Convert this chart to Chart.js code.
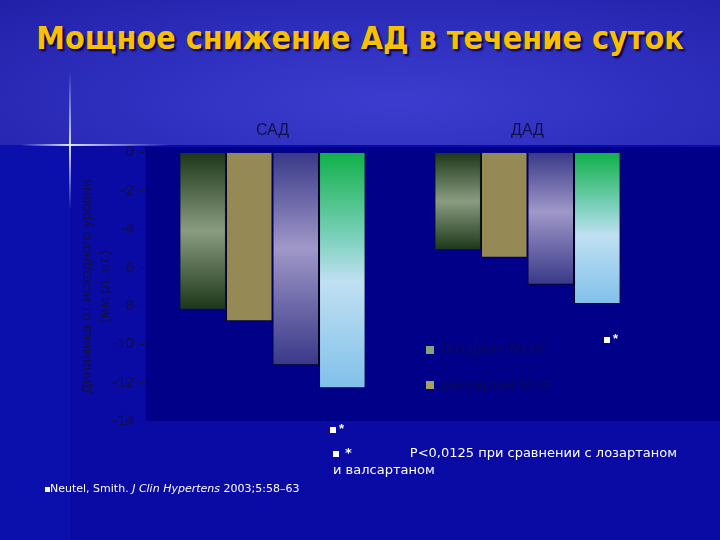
<!DOCTYPE html>
<html>
<head>
<meta charset="utf-8">
<script src="https://cdn.jsdelivr.net/npm/chart.js@4"></script>
<style>
  html, body { margin: 0; padding: 0; }
  body {
    width: 720px; height: 540px; position: relative; overflow: hidden;
    background: #0a0aa4;
    font-family: "Liberation Sans", Arial, sans-serif;
  }
  .top {
    position: absolute; left: 0; top: 0; width: 720px; height: 145px;
    background: radial-gradient(ellipse at 55% 70%, #3c3cce 0%, #3030c0 45%, #2020a8 100%);
  }
  .leftband { position: absolute; left: 0; top: 145px; width: 70px; height: 395px; background: #0b10ac; }
  .vline {
    position: absolute; left: 69px; top: 70px; width: 2px; height: 140px;
    background: linear-gradient(to bottom, rgba(160,190,255,0), rgba(220,235,255,0.95) 55%, rgba(160,190,255,0));
  }
  .hline {
    position: absolute; left: 20px; top: 144px; width: 150px; height: 2px;
    background: linear-gradient(to right, rgba(160,190,255,0), rgba(230,240,255,0.95) 33%, rgba(160,190,255,0));
  }
  h1 {
    position: absolute; left: 0; top: 19px; width: 720px; margin: 0; text-align: center;
    font-family: "DejaVu Sans Condensed", "DejaVu Sans", sans-serif; font-weight: bold; font-size: 32px;
    color: #f8c000; text-shadow: 2px 2px 2px #000044;
  }
  canvas { position: absolute; left: 0; top: 0; }
  .leg { position: absolute; font-size: 15px; color: #0a0a5a; white-space: nowrap; }
  .leg i { display: inline-block; width: 8px; height: 8px; margin-right: 6px; vertical-align: middle; }
  .wht { position: absolute; color: #fff; font-size: 13px; font-weight: bold; white-space: nowrap; }
  .wht i { display: inline-block; width: 6px; height: 6px; background: #fff; margin-right: 3px; vertical-align: middle; }
  .note { position: absolute; color: #fff; font-family: "DejaVu Sans", sans-serif; font-size: 13px; white-space: nowrap; }
</style>
</head>
<body>
<div class="top"></div>
<div class="leftband"></div>
<h1>Мощное снижение АД в течение суток</h1>
<canvas id="myChart" width="720" height="540"></canvas>
<div class="vline"></div>
<div class="hline"></div>

<div class="leg" style="left:426px; top:340px;"><i style="background:#8a9e80"></i>Лозартан 50 мг</div>
<div class="leg" style="left:426px; top:375px;"><i style="background:#a8a060"></i>Валсартан 80 мг</div>
<div class="wht" style="left:604px; top:331px;"><i></i>*</div>
<div class="wht" style="left:330px; top:421px;"><i></i>*</div>
<div class="note" style="left:333px; top:445px;"><span style="display:inline-block;width:6px;height:6px;background:#fff;vertical-align:middle;margin-right:6px"></span><b>*</b><span style="display:inline-block;width:58px"></span>P&lt;0,0125 при сравнении с лозартаном</div>
<div class="note" style="left:333px; top:462px;">и валсартаном</div>
<div class="note" style="left:45px; top:482px; font-size:11px;"><span style="display:inline-block;width:5px;height:5px;background:#fff;vertical-align:middle"></span>Neutel, Smith. <i>J Clin Hypertens</i> 2003;5:58–63</div>

<script>
const categories = ["САД", "ДАД"];
const losartan = [-8.2, -5.1];
const valsartan = [-8.8, -5.5];
const irbesartan = [-11.1, -6.9];
const telmisartan = [-12.3, -7.9];
const yTicks = [0, -2, -4, -6, -8, -10, -12, -14];

// vertical gradient along each bar, from the zero line down to the bar end
function barGradient(stops, fallback) {
  return function (context) {
    const chart = context.chart;
    if (!chart.chartArea || !chart.scales.y) return fallback;
    const y = chart.scales.y;
    const top = y.getPixelForValue(0);
    const bottom = y.getPixelForValue(context.raw);
    if (!isFinite(top) || !isFinite(bottom) || top === bottom) return fallback;
    const g = chart.ctx.createLinearGradient(0, top, 0, bottom);
    stops.forEach(s => g.addColorStop(s[0], s[1]));
    return g;
  };
}

const plotBg = {
  id: "plotBg",
  beforeDraw(chart) {
    const { ctx, chartArea } = chart;
    ctx.save();
    ctx.fillStyle = "#000088";
    ctx.fillRect(chartArea.left, 147, chart.width - chartArea.left, chartArea.bottom - 147);
    ctx.restore();
  },
};

const data = {
  labels: categories,
  datasets: [
    {
      label: "Лозартан 50 мг",
      data: losartan,
      backgroundColor: barGradient([[0, "#1c3618"], [0.5, "#8a9c80"], [1, "#1c3618"]], "#6a8060"),
      borderColor: "#0a1a10",
      borderWidth: 1,
    },
    {
      label: "Валсартан 80 мг",
      data: valsartan,
      backgroundColor: "#958a56",
      borderColor: "#000020",
      borderWidth: 1,
    },
    {
      label: "Ирбесартан 150 мг",
      data: irbesartan,
      backgroundColor: barGradient([[0, "#383888"], [0.45, "#a098c8"], [1, "#383888"]], "#8080c0"),
      borderColor: "#000020",
      borderWidth: 1,
    },
    {
      label: "Телмисартан 80 мг",
      data: telmisartan,
      backgroundColor: barGradient([[0, "#10b048"], [0.35, "#78d0b8"], [0.55, "#c0e0f2"], [1, "#80c0ea"]], "#90d0e0"),
      borderColor: "#000020",
      borderWidth: 1,
    },
  ],
};

const config = {
  type: "bar",
  data,
  plugins: [plotBg],
  options: {
    responsive: false,
    animation: false,
    layout: { padding: { left: 78, right: 65, top: 117, bottom: 119 } },
    plugins: { legend: { display: false }, tooltip: { enabled: false } },
    datasets: { bar: { categoryPercentage: 0.73, barPercentage: 1 } },
    scales: {
      x: {
        position: "top",
        grid: { display: false },
        border: { display: false },
        ticks: { color: "#10104a", font: { family: "Liberation Sans", size: 16 }, padding: 4 },
      },
      y: {
        min: -14,
        max: 0,
        afterBuildTicks(scale) {
          scale.ticks = yTicks.map(v => ({ value: v }));
        },
        afterFit(scale) {
          scale.width = 67;
        },
        grid: { drawOnChartArea: false, color: "#10104a", tickLength: 5 },
        border: { color: "#10104a", width: 1 },
        ticks: { color: "#10104a", font: { family: "Liberation Sans", size: 15 }, padding: 6 },
        title: {
          display: true,
          text: ["Динамика от исходного уровня", "(мм рт. ст.)"],
          color: "#10104a",
          font: { family: "Liberation Sans", size: 15 },
          padding: 0,
        },
      },
    },
  },
};

const myChart = new Chart(document.getElementById("myChart"), config);
</script>
</body>
</html>
